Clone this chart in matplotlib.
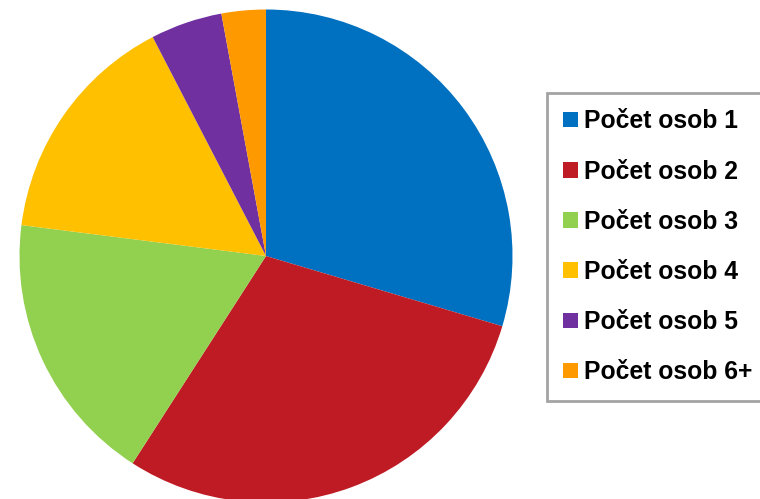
import matplotlib.pyplot as plt
from matplotlib.patches import Rectangle

# household size shares (percent)
labels = ['Počet osob 1', 'Počet osob 2', 'Počet osob 3',
          'Počet osob 4', 'Počet osob 5', 'Počet osob 6+']
shares = [29.6, 29.5, 17.9, 15.4, 4.7, 2.9]
colors = ['#0070C0', '#BE1B24', '#92D050', '#FFC000', '#7030A0', '#FF9900']

fig = plt.figure(figsize=(7.6, 4.99), dpi=100)

# pie axes: centre at (266, 256) px, radius ~246 px
r_px = 246.5
ax = fig.add_axes([(266 - r_px) / 760, (499 - 256 - r_px) / 499,
                   2 * r_px / 760, 2 * r_px / 499])
ax.pie(shares, colors=colors, startangle=90, counterclock=False,
       wedgeprops={'linewidth': 0})
ax.set_xlim(-1, 1)
ax.set_ylim(-1, 1)
ax.axis('off')

# legend with small square markers
handles = [Rectangle((0, 0), 1, 1, facecolor=c, edgecolor='none') for c in colors]
leg = fig.legend(handles, labels, loc='upper left',
                 bbox_to_anchor=(547 / 760, 1 - 93 / 499),
                 prop={'family': 'Liberation Sans', 'weight': 'bold', 'size': 17.8},
                 frameon=True, fancybox=False, borderaxespad=0,
                 handlelength=0.6, handleheight=0.6, handletextpad=0.25,
                 labelspacing=1.06, borderpad=0.66)
frame = leg.get_frame()
frame.set_edgecolor('#8C8C8C')
frame.set_linewidth(2)

fig.savefig('out.png', dpi=100)
